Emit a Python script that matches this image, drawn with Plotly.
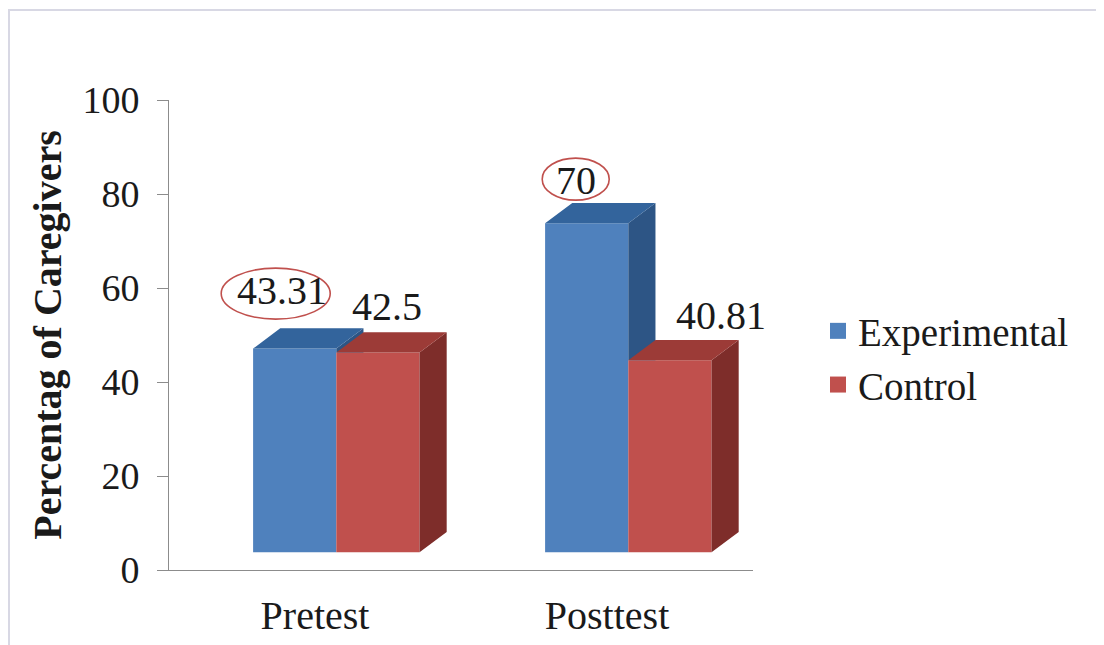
import plotly.graph_objects as go

# ---------------- data ----------------
categories = ["Pretest", "Posttest"]
series_names = ["Experimental", "Control"]
experimental = [43.31, 70]
control = [42.5, 40.81]
experimental_labels = ["43.31", "70"]
control_labels = ["42.5", "40.81"]
experimental_circled = [True, True]
control_circled = [False, False]
y_ticks = [0, 20, 40, 60, 80, 100]

# ---------------- style ----------------
W, H = 1104, 645
OFF = 8            # page margin of the browser
ML, MR, MT, MB = 161, 359, 92, 83
PW, PH = W - ML - MR, H - MT - MB
FONT = "Liberation Serif"
TXT = "#1a1a1a"
FRONT = ["#4F81BD", "#C0504D"]
TOP = ["#33649C", "#9C3B37"]
SIDE = ["#2D5585", "#7E2D2A"]
BAR_W = 0.285      # bar width (category units)
JOIN = 0.073       # where the two bars meet, relative to category centre
DX = 0.093         # 3-D depth, horizontal (category units)
DZ = 4.3           # 3-D depth, vertical (value units)
BASE = 3.8         # floor offset (value units)
AXIS_COL = "#8C8C8C"
# per-label pixel offsets [series][category]
LBL_XS = [[-13, -11], [9, 51]]
LBL_YS = [[58, 43], [46, 45]]
# ellipse (dx, dy, w, h) in pixels relative to the label
ELL = [[(-6, -3, 109, 51), (0, 1, 67, 42)], [(0, 0, 80, 46), (0, 0, 90, 46)]]

series_vals = [experimental, control]
series_lbls = [experimental_labels, control_labels]
series_circ = [experimental_circled, control_circled]
xpos = list(range(len(categories)))

fig = go.Figure()

# front faces as bars
for s, vals in enumerate(series_vals):
    off = -BAR_W / 2 if s == 0 else BAR_W / 2
    fig.add_trace(go.Bar(
        x=[i + JOIN + off for i in xpos], y=vals, base=BASE, width=BAR_W,
        marker=dict(color=FRONT[s], line=dict(width=0)),
        name=series_names[s], showlegend=False, hoverinfo="skip"))


def poly_trace(xs, ys, color):
    return go.Scatter(x=xs, y=ys, mode="lines", fill="toself", fillcolor=color,
                      line=dict(width=0, color=color), showlegend=False,
                      hoverinfo="skip")


# top & side faces (computed from values), drawn series by series
for s, vals in enumerate(series_vals):
    tx, ty, sx, sy = [], [], [], []
    for i, v in zip(xpos, vals):
        xl = i + JOIN - BAR_W if s == 0 else i + JOIN
        xr = xl + BAR_W
        t = BASE + v
        # top face
        tx += [xl, xr, xr + DX, xl + DX, xl, None]
        ty += [t, t, t + DZ, t + DZ, t, None]
        # side face (clipped by the neighbouring front face on the right)
        lo = BASE
        if s < len(series_vals) - 1:
            lo = min(BASE + series_vals[s + 1][i], t)
        lo_r = max(lo, BASE + DZ)
        sx += [xr, xr + DX, xr + DX, xr, xr, None]
        sy += [lo, lo_r, t + DZ, t, lo, None]
    fig.add_trace(poly_trace(sx, sy, SIDE[s]))
    fig.add_trace(poly_trace(tx, ty, TOP[s]))

# legend entries
for s, name in enumerate(series_names):
    fig.add_trace(go.Scatter(
        x=[None], y=[None], mode="markers", name=name,
        marker=dict(symbol="square", size=17, color=FRONT[s])))

# value labels and highlight ellipses
shapes = []
annotations = []
for s, vals in enumerate(series_vals):
    off = -BAR_W / 2 if s == 0 else BAR_W / 2
    for i, v in zip(xpos, vals):
        xc = i + JOIN + off
        yc = BASE + v
        annotations.append(dict(
            x=xc, y=yc, xref="x", yref="y", text=series_lbls[s][i],
            showarrow=False, xshift=LBL_XS[s][i], yshift=LBL_YS[s][i],
            font=dict(family=FONT, size=40, color=TXT)))
        if series_circ[s][i]:
            ex, ey, ew, eh = ELL[s][i]
            cx = LBL_XS[s][i] + ex
            cy = LBL_YS[s][i] + ey
            shapes.append(dict(
                type="circle", xref="x", yref="y", xsizemode="pixel",
                ysizemode="pixel", xanchor=xc, yanchor=yc,
                x0=cx - ew / 2, x1=cx + ew / 2, y0=cy - eh / 2, y1=cy + eh / 2,
                line=dict(color="#C0504D", width=1.6), layer="above"))


# screen pixel -> paper coordinates
def px(xs):
    return (xs - OFF - ML) / PW


def py(ys):
    return (H - MB - (ys - OFF)) / PH


# outer frame (top and left edges)
shapes.append(dict(type="line", xref="paper", yref="paper",
                   x0=px(7), x1=px(W + 20), y0=py(10), y1=py(10),
                   line=dict(color="#D8D8E4", width=2)))
shapes.append(dict(type="line", xref="paper", yref="paper",
                   x0=px(9), x1=px(9), y0=py(10), y1=py(H + 20),
                   line=dict(color="#D8D8E4", width=2)))

fig.update_layout(
    width=W, height=H,
    margin=dict(l=ML, r=MR, t=MT, b=MB),
    paper_bgcolor="white", plot_bgcolor="white",
    barmode="overlay",
    showlegend=True,
    legend=dict(x=px(818), y=py(299), xanchor="left", yanchor="top",
                font=dict(family=FONT, size=39, color=TXT),
                bgcolor="rgba(0,0,0,0)", itemclick=False),
    shapes=shapes,
    annotations=annotations,
    font=dict(family=FONT, color=TXT),
)
fig.update_xaxes(
    range=[-0.5, len(categories) - 0.5], tickvals=xpos, ticktext=categories,
    showline=True, linecolor=AXIS_COL, linewidth=1, ticks="",
    showgrid=False, zeroline=False, ticklabelstandoff=10,
    tickfont=dict(family=FONT, size=40, color=TXT))
fig.update_yaxes(
    range=[0, 100], tickvals=y_ticks,
    showline=True, linecolor=AXIS_COL, linewidth=1,
    ticks="outside", ticklen=11, tickcolor=AXIS_COL,
    showgrid=False, zeroline=False, ticklabelstandoff=10,
    tickfont=dict(family=FONT, size=38, color=TXT),
    title=dict(text="<b>Percentag of Caregivers</b>", standoff=8,
               font=dict(family=FONT, size=40, color=TXT)))

fig.write_html("out.html")
